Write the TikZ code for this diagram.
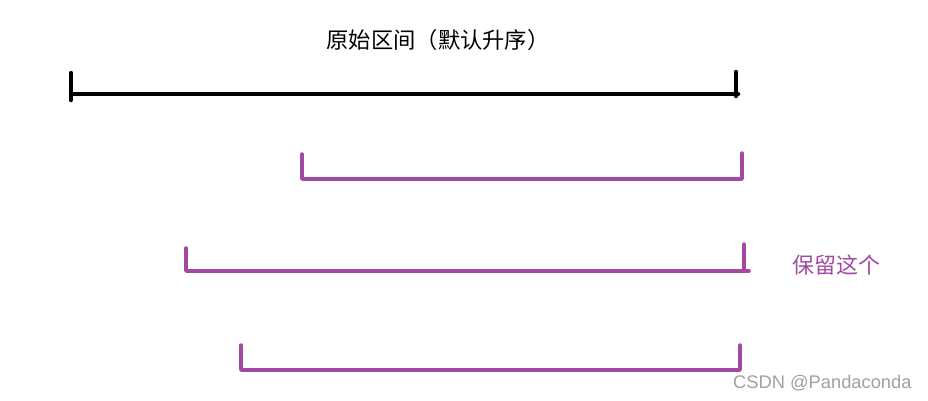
\documentclass[tikz,border=0pt]{standalone}
\usepackage{fontspec}
\newfontfamily\cjk{Noto Sans CJK SC}
\newfontfamily\wm{Liberation Sans}
\definecolor{paintpurple}{RGB}{163,73,164}
\definecolor{wmgray}{RGB}{160,160,160}
\tikzset{
  blackbar/.style={line width=4.5pt, line cap=round, line join=round, black},
  purplebar/.style={line width=3.5pt, line cap=round, line join=round, paintpurple},
}
\begin{document}
\begin{tikzpicture}[x=1pt,y=-1pt]
\useasboundingbox (0,0) rectangle (928,400);
% title
\node[font=\cjk\fontsize{22.3}{24}\selectfont, anchor=center, inner sep=0pt] (title) at (438,40) {原始区间（默认升序）};
% black original interval
\coordinate (a1) at (71,94);
\coordinate (a2) at (738,94);
\draw[blackbar] (a1) -- (a2);
\draw[blackbar] (71,73) -- (71,100);
\draw[blackbar] (736,72) -- (736,96);
% interval 1
\coordinate (b1) at (302,179);
\coordinate (b2) at (742,179);
\draw[purplebar] (302,154) -- (b1) -- (b2) -- (742,153);
% interval 2
\coordinate (c1) at (186,271);
\coordinate (c2) at (749,271);
\draw[purplebar] (186,248) -- (c1) -- (c2);
\draw[purplebar] (744,244) -- (744,271);
% interval 3
\coordinate (d1) at (241,370);
\coordinate (d2) at (740,370);
\draw[purplebar] (241,345) -- (d1) -- (d2) -- (740,345);
% label
\node[font=\cjk\fontsize{22}{24}\selectfont, text=paintpurple, anchor=west, inner sep=0pt] (keep) at (792,265) {保留这个};
% watermark
\node[font=\wm\fontsize{18.3}{20}\selectfont, text=wmgray, anchor=west, inner sep=0pt] (mark) at (733,383) {CSDN @Pandaconda};
\end{tikzpicture}
\end{document}
